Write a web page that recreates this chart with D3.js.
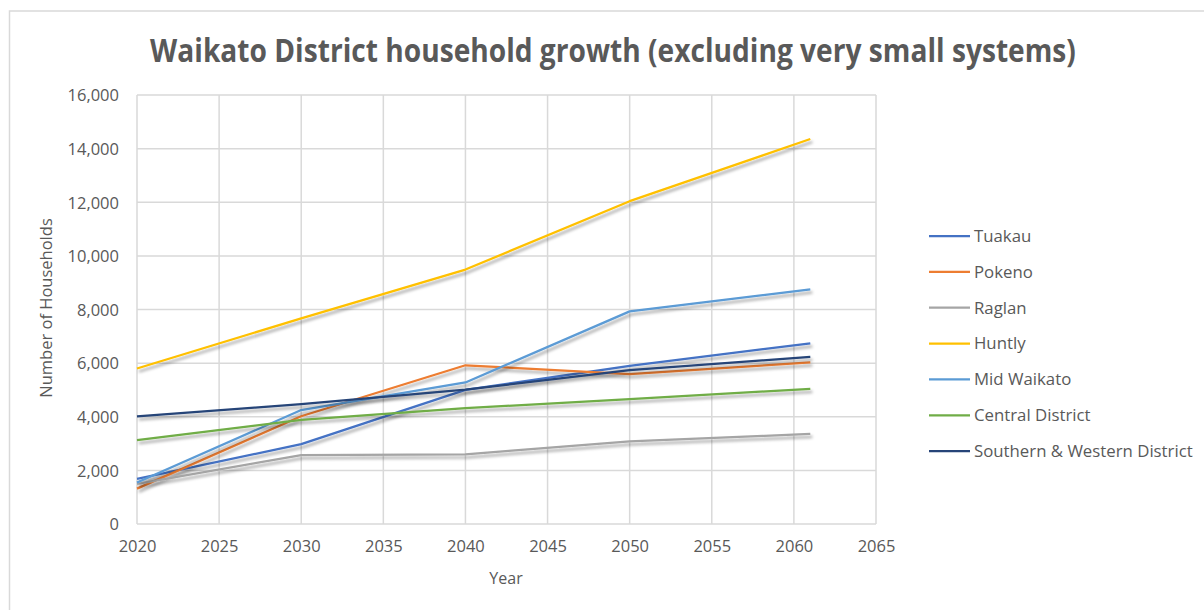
<!DOCTYPE html>
<html>
<head>
<meta charset="utf-8">
<script src="https://cdn.jsdelivr.net/npm/d3@7"></script>
<style>
  html, body { margin: 0; padding: 0; background: #fff; }
  svg { display: block; }
  text { font-family: "Open Sans", "Liberation Sans", sans-serif; fill: #595959; }
</style>
</head>
<body>
<svg id="chart" width="1204" height="610"></svg>
<script>
const years = [2020, 2030, 2040, 2050, 2061];
const seriesNames = ["Tuakau", "Pokeno", "Raglan", "Huntly", "Mid Waikato", "Central District", "Southern & Western District"];
const seriesColors = ["#4472C4", "#ED7D31", "#A5A5A5", "#FFC000", "#5B9BD5", "#70AD47", "#264478"];
const tuakau   = [1680, 2980, 5000, 5900, 6740];
const pokeno   = [1320, 4020, 5920, 5590, 6030];
const raglan   = [1500, 2570, 2600, 3080, 3360];
const huntly   = [5800, 7670, 9490, 12040, 14360];
const midWaikato = [1545, 4250, 5280, 7930, 8750];
const central  = [3130, 3880, 4320, 4660, 5040];
const southernWestern = [4010, 4470, 5010, 5740, 6230];
const xTicks = [2020, 2025, 2030, 2035, 2040, 2045, 2050, 2055, 2060, 2065];
const yTicks = [0, 2000, 4000, 6000, 8000, 10000, 12000, 14000, 16000];
const titleText = "Waikato District household growth (excluding very small systems)";
const xTitle = "Year";
const yTitle = "Number of Households";

const allValues = [tuakau, pokeno, raglan, huntly, midWaikato, central, southernWestern];
const series = seriesNames.map((n, i) => ({name: n, color: seriesColors[i], values: allValues[i]}));

const svg = d3.select("#chart");
const defs = svg.append("defs");
const f = defs.append("filter").attr("id", "shadow").attr("x", "-10%").attr("y", "-10%").attr("width", "120%").attr("height", "140%");
f.append("feDropShadow").attr("dx", 2).attr("dy", 3).attr("stdDeviation", 1.8).attr("flood-color", "#000").attr("flood-opacity", 0.35);

// outer chart border
svg.append("rect").attr("x", 9.5).attr("y", 11).attr("width", 1220).attr("height", 640)
  .attr("fill", "#fff").attr("stroke", "#d9d9d9").attr("stroke-width", 1.5);

const x = d3.scaleLinear().domain([2020, 2065]).range([137, 876]);
const y = d3.scaleLinear().domain([0, 16000]).range([524, 95]);

// gridlines
const g = svg.append("g");
g.selectAll("line.h").data(yTicks).join("line")
  .attr("x1", x(2020)).attr("x2", x(2065))
  .attr("y1", d => y(d)).attr("y2", d => y(d))
  .attr("stroke", "#d9d9d9").attr("stroke-width", 1.5);
g.selectAll("line.v").data(xTicks).join("line")
  .attr("y1", y(0)).attr("y2", y(16000))
  .attr("x1", d => x(d)).attr("x2", d => x(d))
  .attr("stroke", "#d9d9d9").attr("stroke-width", 1.5);

// axes (labels only)
const yAxis = d3.axisLeft(y).tickValues(yTicks).tickFormat(d3.format(",")).tickSize(0).tickPadding(18);
const ya = svg.append("g").attr("transform", `translate(${x(2020)},0)`).call(yAxis);
ya.select(".domain").remove();
ya.selectAll("text").style("font-size", "16.5px").attr("fill", "#595959").attr("dy", "0.35em");

const xAxis = d3.axisBottom(x).tickValues(xTicks).tickFormat(d3.format("d")).tickSize(0).tickPadding(16);
const xa = svg.append("g").attr("transform", `translate(0,${y(0)})`).call(xAxis);
xa.select(".domain").remove();
xa.selectAll("text").style("font-size", "16.5px").attr("fill", "#595959");

// lines
const line = d3.line().x((d, i) => x(years[i])).y(d => y(d));
svg.append("g").selectAll("path").data(series).join("path")
  .attr("d", d => line(d.values))
  .attr("fill", "none")
  .attr("stroke", d => d.color)
  .attr("stroke-width", 2.25)
  .attr("stroke-linejoin", "round")
  .attr("filter", "url(#shadow)");

// title (condensed horizontally to match the reference width)
const tg = svg.append("g");
const t = tg.append("text").attr("x", 0).attr("y", 0).attr("text-anchor", "middle")
  .style("font-size", "32px").style("font-weight", "bold").text(titleText);
const tw = t.node().getComputedTextLength();
tg.attr("transform", `translate(613,62) scale(${926 / tw},1)`);

// axis titles
svg.append("text").attr("x", 506).attr("y", 584).attr("text-anchor", "middle")
  .style("font-size", "16px").text(xTitle);
svg.append("text").attr("transform", "translate(52,308) rotate(-90)").attr("text-anchor", "middle")
  .style("font-size", "16.5px").text(yTitle);

// legend
const leg = svg.append("g").selectAll("g").data(series).join("g")
  .attr("transform", (d, i) => `translate(929,${236 + i * 35.85})`);
leg.append("line").attr("x1", 0).attr("x2", 41).attr("y1", 0).attr("y2", 0)
  .attr("stroke", d => d.color).attr("stroke-width", 2.25);
leg.append("text").attr("x", 45).attr("y", 0).attr("dy", "0.35em")
  .style("font-size", "16.8px").text(d => d.name);
</script>
</body>
</html>
